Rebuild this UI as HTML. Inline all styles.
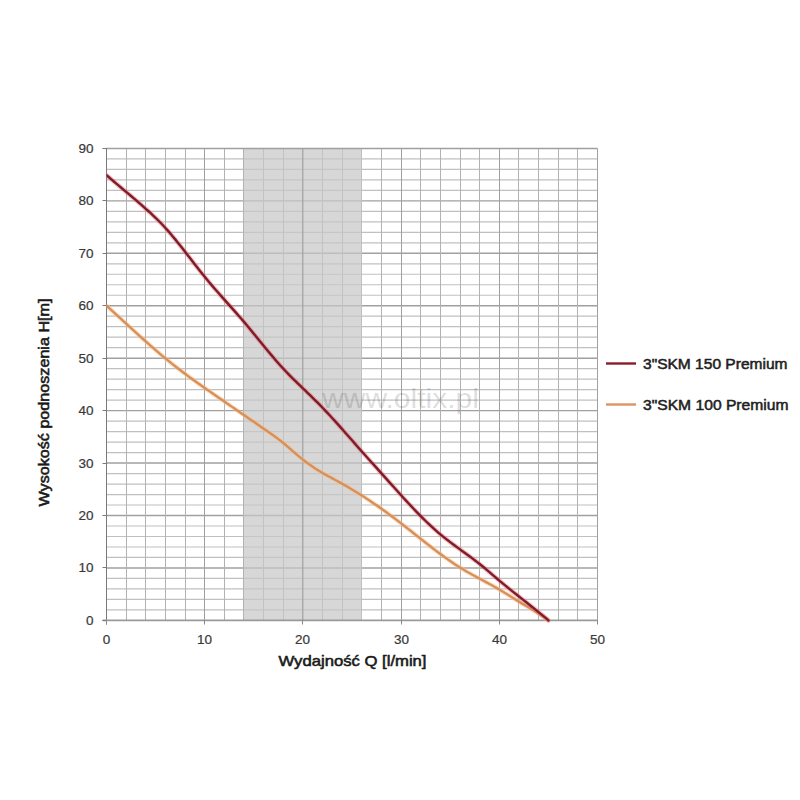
<!DOCTYPE html>
<html><head><meta charset="utf-8"><style>
html,body{margin:0;padding:0;background:#fff;width:800px;height:800px;overflow:hidden}
svg{display:block}
.tl{font-family:"Liberation Sans",sans-serif;font-size:13.5px;fill:#383838;stroke:#383838;stroke-width:0.2px}
.ti{font-family:"Liberation Sans",sans-serif;font-size:14.5px;font-weight:normal;fill:#1a1a1a;stroke:#1a1a1a;stroke-width:0.55px}
.lg{font-family:"Liberation Sans",sans-serif;font-size:14px;font-weight:normal;fill:#1e1e1e;stroke:#1e1e1e;stroke-width:0.5px}
.wm{font-family:"Liberation Sans",sans-serif;font-size:28px;fill:#000;fill-opacity:0.15}
</style></head><body>
<svg width="800" height="800" viewBox="0 0 800 800">
<defs><clipPath id="pc"><rect x="106.5" y="140" width="500" height="490"/></clipPath></defs>
<line x1="106.5" x2="597.5" y1="609.91" y2="609.91" stroke="#c0c0c0" stroke-width="1.2"/>
<line x1="106.5" x2="597.5" y1="599.42" y2="599.42" stroke="#c0c0c0" stroke-width="1.2"/>
<line x1="106.5" x2="597.5" y1="588.93" y2="588.93" stroke="#c0c0c0" stroke-width="1.2"/>
<line x1="106.5" x2="597.5" y1="578.44" y2="578.44" stroke="#c0c0c0" stroke-width="1.2"/>
<line x1="106.5" x2="597.5" y1="567.96" y2="567.96" stroke="#a0a0a0" stroke-width="1.4"/>
<line x1="106.5" x2="597.5" y1="557.47" y2="557.47" stroke="#c0c0c0" stroke-width="1.2"/>
<line x1="106.5" x2="597.5" y1="546.98" y2="546.98" stroke="#c0c0c0" stroke-width="1.2"/>
<line x1="106.5" x2="597.5" y1="536.49" y2="536.49" stroke="#c0c0c0" stroke-width="1.2"/>
<line x1="106.5" x2="597.5" y1="526.00" y2="526.00" stroke="#c0c0c0" stroke-width="1.2"/>
<line x1="106.5" x2="597.5" y1="515.51" y2="515.51" stroke="#a0a0a0" stroke-width="1.4"/>
<line x1="106.5" x2="597.5" y1="505.02" y2="505.02" stroke="#c0c0c0" stroke-width="1.2"/>
<line x1="106.5" x2="597.5" y1="494.53" y2="494.53" stroke="#c0c0c0" stroke-width="1.2"/>
<line x1="106.5" x2="597.5" y1="484.04" y2="484.04" stroke="#c0c0c0" stroke-width="1.2"/>
<line x1="106.5" x2="597.5" y1="473.56" y2="473.56" stroke="#c0c0c0" stroke-width="1.2"/>
<line x1="106.5" x2="597.5" y1="463.07" y2="463.07" stroke="#a0a0a0" stroke-width="1.4"/>
<line x1="106.5" x2="597.5" y1="452.58" y2="452.58" stroke="#c0c0c0" stroke-width="1.2"/>
<line x1="106.5" x2="597.5" y1="442.09" y2="442.09" stroke="#c0c0c0" stroke-width="1.2"/>
<line x1="106.5" x2="597.5" y1="431.60" y2="431.60" stroke="#c0c0c0" stroke-width="1.2"/>
<line x1="106.5" x2="597.5" y1="421.11" y2="421.11" stroke="#c0c0c0" stroke-width="1.2"/>
<line x1="106.5" x2="597.5" y1="410.62" y2="410.62" stroke="#a0a0a0" stroke-width="1.4"/>
<line x1="106.5" x2="597.5" y1="400.13" y2="400.13" stroke="#c0c0c0" stroke-width="1.2"/>
<line x1="106.5" x2="597.5" y1="389.64" y2="389.64" stroke="#c0c0c0" stroke-width="1.2"/>
<line x1="106.5" x2="597.5" y1="379.16" y2="379.16" stroke="#c0c0c0" stroke-width="1.2"/>
<line x1="106.5" x2="597.5" y1="368.67" y2="368.67" stroke="#c0c0c0" stroke-width="1.2"/>
<line x1="106.5" x2="597.5" y1="358.18" y2="358.18" stroke="#a0a0a0" stroke-width="1.4"/>
<line x1="106.5" x2="597.5" y1="347.69" y2="347.69" stroke="#c0c0c0" stroke-width="1.2"/>
<line x1="106.5" x2="597.5" y1="337.20" y2="337.20" stroke="#c0c0c0" stroke-width="1.2"/>
<line x1="106.5" x2="597.5" y1="326.71" y2="326.71" stroke="#c0c0c0" stroke-width="1.2"/>
<line x1="106.5" x2="597.5" y1="316.22" y2="316.22" stroke="#c0c0c0" stroke-width="1.2"/>
<line x1="106.5" x2="597.5" y1="305.73" y2="305.73" stroke="#a0a0a0" stroke-width="1.4"/>
<line x1="106.5" x2="597.5" y1="295.24" y2="295.24" stroke="#c0c0c0" stroke-width="1.2"/>
<line x1="106.5" x2="597.5" y1="284.76" y2="284.76" stroke="#c0c0c0" stroke-width="1.2"/>
<line x1="106.5" x2="597.5" y1="274.27" y2="274.27" stroke="#c0c0c0" stroke-width="1.2"/>
<line x1="106.5" x2="597.5" y1="263.78" y2="263.78" stroke="#c0c0c0" stroke-width="1.2"/>
<line x1="106.5" x2="597.5" y1="253.29" y2="253.29" stroke="#a0a0a0" stroke-width="1.4"/>
<line x1="106.5" x2="597.5" y1="242.80" y2="242.80" stroke="#c0c0c0" stroke-width="1.2"/>
<line x1="106.5" x2="597.5" y1="232.31" y2="232.31" stroke="#c0c0c0" stroke-width="1.2"/>
<line x1="106.5" x2="597.5" y1="221.82" y2="221.82" stroke="#c0c0c0" stroke-width="1.2"/>
<line x1="106.5" x2="597.5" y1="211.33" y2="211.33" stroke="#c0c0c0" stroke-width="1.2"/>
<line x1="106.5" x2="597.5" y1="200.84" y2="200.84" stroke="#a0a0a0" stroke-width="1.4"/>
<line x1="106.5" x2="597.5" y1="190.36" y2="190.36" stroke="#c0c0c0" stroke-width="1.2"/>
<line x1="106.5" x2="597.5" y1="179.87" y2="179.87" stroke="#c0c0c0" stroke-width="1.2"/>
<line x1="106.5" x2="597.5" y1="169.38" y2="169.38" stroke="#c0c0c0" stroke-width="1.2"/>
<line x1="106.5" x2="597.5" y1="158.89" y2="158.89" stroke="#c0c0c0" stroke-width="1.2"/>
<line x1="126.5" x2="126.5" y1="148.4" y2="620.4" stroke="#b2b2b2" stroke-width="1"/>
<line x1="145.5" x2="145.5" y1="148.4" y2="620.4" stroke="#b2b2b2" stroke-width="1"/>
<line x1="165.5" x2="165.5" y1="148.4" y2="620.4" stroke="#b2b2b2" stroke-width="1"/>
<line x1="185.5" x2="185.5" y1="148.4" y2="620.4" stroke="#b2b2b2" stroke-width="1"/>
<line x1="204.5" x2="204.5" y1="148.4" y2="620.4" stroke="#a0a0a0" stroke-width="1"/>
<line x1="224.5" x2="224.5" y1="148.4" y2="620.4" stroke="#b2b2b2" stroke-width="1"/>
<line x1="243.5" x2="243.5" y1="148.4" y2="620.4" stroke="#b2b2b2" stroke-width="1"/>
<line x1="263.5" x2="263.5" y1="148.4" y2="620.4" stroke="#b2b2b2" stroke-width="1"/>
<line x1="283.5" x2="283.5" y1="148.4" y2="620.4" stroke="#b2b2b2" stroke-width="1"/>
<line x1="302.5" x2="302.5" y1="148.4" y2="620.4" stroke="#a0a0a0" stroke-width="1"/>
<line x1="322.5" x2="322.5" y1="148.4" y2="620.4" stroke="#b2b2b2" stroke-width="1"/>
<line x1="342.5" x2="342.5" y1="148.4" y2="620.4" stroke="#b2b2b2" stroke-width="1"/>
<line x1="361.5" x2="361.5" y1="148.4" y2="620.4" stroke="#b2b2b2" stroke-width="1"/>
<line x1="381.5" x2="381.5" y1="148.4" y2="620.4" stroke="#b2b2b2" stroke-width="1"/>
<line x1="401.5" x2="401.5" y1="148.4" y2="620.4" stroke="#a0a0a0" stroke-width="1"/>
<line x1="420.5" x2="420.5" y1="148.4" y2="620.4" stroke="#b2b2b2" stroke-width="1"/>
<line x1="440.5" x2="440.5" y1="148.4" y2="620.4" stroke="#b2b2b2" stroke-width="1"/>
<line x1="460.5" x2="460.5" y1="148.4" y2="620.4" stroke="#b2b2b2" stroke-width="1"/>
<line x1="479.5" x2="479.5" y1="148.4" y2="620.4" stroke="#b2b2b2" stroke-width="1"/>
<line x1="499.5" x2="499.5" y1="148.4" y2="620.4" stroke="#a0a0a0" stroke-width="1"/>
<line x1="518.5" x2="518.5" y1="148.4" y2="620.4" stroke="#b2b2b2" stroke-width="1"/>
<line x1="538.5" x2="538.5" y1="148.4" y2="620.4" stroke="#b2b2b2" stroke-width="1"/>
<line x1="558.5" x2="558.5" y1="148.4" y2="620.4" stroke="#b2b2b2" stroke-width="1"/>
<line x1="577.5" x2="577.5" y1="148.4" y2="620.4" stroke="#b2b2b2" stroke-width="1"/>
<rect x="243.98" y="148.50" width="117.84" height="471.90" fill="#c8c8c8" fill-opacity="0.72"/>
<line x1="302.9" x2="302.9" y1="148.5" y2="620.4" stroke="#909090" stroke-opacity="0.55" stroke-width="1.3"/>
<line x1="597.5" x2="597.5" y1="148.4" y2="620.4" stroke="#a0a0a0" stroke-width="1"/>
<line x1="106.5" x2="597.5" y1="148.5" y2="148.5" stroke="#a0a0a0" stroke-width="1.3"/>
<line x1="106.5" x2="106.5" y1="148.0" y2="624.5" stroke="#7a7a7a" stroke-width="1"/>
<line x1="102.5" x2="597.5" y1="620.4" y2="620.4" stroke="#9a9a9a" stroke-width="1.6"/>
<line x1="102.5" x2="106.5" y1="620.5" y2="620.5" stroke="#7a7a7a" stroke-width="1"/>
<text x="93.5" y="625.3" text-anchor="end" class="tl">0</text>
<line x1="102.5" x2="106.5" y1="567.5" y2="567.5" stroke="#7a7a7a" stroke-width="1"/>
<text x="93.5" y="572.3" text-anchor="end" class="tl">10</text>
<line x1="102.5" x2="106.5" y1="515.5" y2="515.5" stroke="#7a7a7a" stroke-width="1"/>
<text x="93.5" y="520.3" text-anchor="end" class="tl">20</text>
<line x1="102.5" x2="106.5" y1="463.5" y2="463.5" stroke="#7a7a7a" stroke-width="1"/>
<text x="93.5" y="468.3" text-anchor="end" class="tl">30</text>
<line x1="102.5" x2="106.5" y1="410.5" y2="410.5" stroke="#7a7a7a" stroke-width="1"/>
<text x="93.5" y="415.3" text-anchor="end" class="tl">40</text>
<line x1="102.5" x2="106.5" y1="358.5" y2="358.5" stroke="#7a7a7a" stroke-width="1"/>
<text x="93.5" y="363.3" text-anchor="end" class="tl">50</text>
<line x1="102.5" x2="106.5" y1="305.5" y2="305.5" stroke="#7a7a7a" stroke-width="1"/>
<text x="93.5" y="310.3" text-anchor="end" class="tl">60</text>
<line x1="102.5" x2="106.5" y1="253.5" y2="253.5" stroke="#7a7a7a" stroke-width="1"/>
<text x="93.5" y="258.3" text-anchor="end" class="tl">70</text>
<line x1="102.5" x2="106.5" y1="200.5" y2="200.5" stroke="#7a7a7a" stroke-width="1"/>
<text x="93.5" y="205.3" text-anchor="end" class="tl">80</text>
<line x1="102.5" x2="106.5" y1="148.5" y2="148.5" stroke="#7a7a7a" stroke-width="1"/>
<text x="93.5" y="153.3" text-anchor="end" class="tl">90</text>
<line x1="106.5" x2="106.5" y1="620.0" y2="624.5" stroke="#8a8a8a" stroke-width="1"/>
<text x="106.5" y="644" text-anchor="middle" class="tl">0</text>
<line x1="204.5" x2="204.5" y1="620.0" y2="624.5" stroke="#8a8a8a" stroke-width="1"/>
<text x="204.5" y="644" text-anchor="middle" class="tl">10</text>
<line x1="302.5" x2="302.5" y1="620.0" y2="624.5" stroke="#8a8a8a" stroke-width="1"/>
<text x="302.5" y="644" text-anchor="middle" class="tl">20</text>
<line x1="401.5" x2="401.5" y1="620.0" y2="624.5" stroke="#8a8a8a" stroke-width="1"/>
<text x="401.5" y="644" text-anchor="middle" class="tl">30</text>
<line x1="499.5" x2="499.5" y1="620.0" y2="624.5" stroke="#8a8a8a" stroke-width="1"/>
<text x="499.5" y="644" text-anchor="middle" class="tl">40</text>
<line x1="597.5" x2="597.5" y1="620.0" y2="624.5" stroke="#8a8a8a" stroke-width="1"/>
<text x="597.5" y="644" text-anchor="middle" class="tl">50</text>
<text x="322" y="408.2" class="wm" textLength="157" lengthAdjust="spacingAndGlyphs">www.oltix.pl</text>
<path d="M106.50 305.73 L108.95 307.93 L111.41 310.14 L113.86 312.37 L116.32 314.61 L118.78 316.85 L121.23 319.10 L123.69 321.35 L126.14 323.60 L128.59 325.85 L131.05 328.10 L133.50 330.35 L135.96 332.59 L138.41 334.82 L140.87 337.04 L143.32 339.25 L145.78 341.45 L148.24 343.64 L150.69 345.81 L153.15 347.96 L155.60 350.09 L158.06 352.20 L160.51 354.29 L162.97 356.35 L165.42 358.39 L167.88 360.40 L170.33 362.38 L172.78 364.34 L175.24 366.27 L177.69 368.18 L180.15 370.06 L182.61 371.93 L185.06 373.77 L187.51 375.60 L189.97 377.41 L192.43 379.20 L194.88 380.97 L197.33 382.74 L199.79 384.49 L202.25 386.23 L204.70 387.95 L207.16 389.67 L209.61 391.39 L212.06 393.09 L214.52 394.79 L216.97 396.48 L219.43 398.18 L221.88 399.86 L224.34 401.55 L226.80 403.24 L229.25 404.93 L231.70 406.62 L234.16 408.31 L236.62 410.00 L239.07 411.69 L241.53 413.39 L243.98 415.08 L246.44 416.77 L248.89 418.46 L251.34 420.16 L253.80 421.85 L256.25 423.55 L258.71 425.24 L261.16 426.94 L263.62 428.64 L266.07 430.34 L268.53 432.05 L270.99 433.77 L273.44 435.53 L275.89 437.32 L278.35 439.16 L280.81 441.05 L283.26 443.01 L285.72 445.03 L288.17 447.11 L290.62 449.22 L293.08 451.35 L295.53 453.47 L297.99 455.56 L300.44 457.61 L302.90 459.60 L305.36 461.51 L307.81 463.34 L310.26 465.09 L312.72 466.78 L315.18 468.40 L317.63 469.96 L320.09 471.47 L322.54 472.93 L325.00 474.34 L327.45 475.72 L329.90 477.07 L332.36 478.41 L334.81 479.73 L337.27 481.06 L339.73 482.40 L342.18 483.75 L344.63 485.13 L347.09 486.53 L349.54 487.97 L352.00 489.42 L354.46 490.91 L356.91 492.42 L359.37 493.95 L361.82 495.51 L364.27 497.09 L366.73 498.69 L369.19 500.32 L371.64 501.97 L374.10 503.64 L376.55 505.33 L379.00 507.05 L381.46 508.78 L383.92 510.54 L386.37 512.31 L388.82 514.11 L391.28 515.92 L393.74 517.76 L396.19 519.61 L398.64 521.48 L401.10 523.36 L403.56 525.27 L406.01 527.19 L408.46 529.12 L410.92 531.05 L413.38 533.00 L415.83 534.95 L418.29 536.90 L420.74 538.84 L423.19 540.79 L425.65 542.72 L428.11 544.65 L430.56 546.56 L433.01 548.46 L435.47 550.34 L437.93 552.20 L440.38 554.03 L442.83 555.84 L445.29 557.62 L447.75 559.37 L450.20 561.08 L452.65 562.76 L455.11 564.40 L457.56 566.00 L460.02 567.55 L462.48 569.05 L464.93 570.52 L467.38 571.94 L469.84 573.33 L472.30 574.70 L474.75 576.05 L477.20 577.38 L479.66 578.70 L482.12 580.01 L484.57 581.33 L487.02 582.65 L489.48 583.98 L491.94 585.32 L494.39 586.69 L496.85 588.09 L499.30 589.51 L501.75 590.98 L504.21 592.47 L506.67 593.98 L509.12 595.51 L511.57 597.05 L514.03 598.58 L516.49 600.11 L518.94 601.63 L521.39 603.12 L523.85 604.60 L526.31 606.07 L528.76 607.55 L531.21 609.03 L533.67 610.53 L536.12 612.06 L538.58 613.62 L541.04 615.23 L543.49 616.88 L545.94 618.60 L548.40 620.40" fill="none" stroke="#f7c08c" stroke-opacity="0.45" stroke-width="4.6" stroke-linejoin="round" stroke-linecap="round" clip-path="url(#pc)"/>
<path d="M106.50 305.73 L108.95 307.93 L111.41 310.14 L113.86 312.37 L116.32 314.61 L118.78 316.85 L121.23 319.10 L123.69 321.35 L126.14 323.60 L128.59 325.85 L131.05 328.10 L133.50 330.35 L135.96 332.59 L138.41 334.82 L140.87 337.04 L143.32 339.25 L145.78 341.45 L148.24 343.64 L150.69 345.81 L153.15 347.96 L155.60 350.09 L158.06 352.20 L160.51 354.29 L162.97 356.35 L165.42 358.39 L167.88 360.40 L170.33 362.38 L172.78 364.34 L175.24 366.27 L177.69 368.18 L180.15 370.06 L182.61 371.93 L185.06 373.77 L187.51 375.60 L189.97 377.41 L192.43 379.20 L194.88 380.97 L197.33 382.74 L199.79 384.49 L202.25 386.23 L204.70 387.95 L207.16 389.67 L209.61 391.39 L212.06 393.09 L214.52 394.79 L216.97 396.48 L219.43 398.18 L221.88 399.86 L224.34 401.55 L226.80 403.24 L229.25 404.93 L231.70 406.62 L234.16 408.31 L236.62 410.00 L239.07 411.69 L241.53 413.39 L243.98 415.08 L246.44 416.77 L248.89 418.46 L251.34 420.16 L253.80 421.85 L256.25 423.55 L258.71 425.24 L261.16 426.94 L263.62 428.64 L266.07 430.34 L268.53 432.05 L270.99 433.77 L273.44 435.53 L275.89 437.32 L278.35 439.16 L280.81 441.05 L283.26 443.01 L285.72 445.03 L288.17 447.11 L290.62 449.22 L293.08 451.35 L295.53 453.47 L297.99 455.56 L300.44 457.61 L302.90 459.60 L305.36 461.51 L307.81 463.34 L310.26 465.09 L312.72 466.78 L315.18 468.40 L317.63 469.96 L320.09 471.47 L322.54 472.93 L325.00 474.34 L327.45 475.72 L329.90 477.07 L332.36 478.41 L334.81 479.73 L337.27 481.06 L339.73 482.40 L342.18 483.75 L344.63 485.13 L347.09 486.53 L349.54 487.97 L352.00 489.42 L354.46 490.91 L356.91 492.42 L359.37 493.95 L361.82 495.51 L364.27 497.09 L366.73 498.69 L369.19 500.32 L371.64 501.97 L374.10 503.64 L376.55 505.33 L379.00 507.05 L381.46 508.78 L383.92 510.54 L386.37 512.31 L388.82 514.11 L391.28 515.92 L393.74 517.76 L396.19 519.61 L398.64 521.48 L401.10 523.36 L403.56 525.27 L406.01 527.19 L408.46 529.12 L410.92 531.05 L413.38 533.00 L415.83 534.95 L418.29 536.90 L420.74 538.84 L423.19 540.79 L425.65 542.72 L428.11 544.65 L430.56 546.56 L433.01 548.46 L435.47 550.34 L437.93 552.20 L440.38 554.03 L442.83 555.84 L445.29 557.62 L447.75 559.37 L450.20 561.08 L452.65 562.76 L455.11 564.40 L457.56 566.00 L460.02 567.55 L462.48 569.05 L464.93 570.52 L467.38 571.94 L469.84 573.33 L472.30 574.70 L474.75 576.05 L477.20 577.38 L479.66 578.70 L482.12 580.01 L484.57 581.33 L487.02 582.65 L489.48 583.98 L491.94 585.32 L494.39 586.69 L496.85 588.09 L499.30 589.51 L501.75 590.98 L504.21 592.47 L506.67 593.98 L509.12 595.51 L511.57 597.05 L514.03 598.58 L516.49 600.11 L518.94 601.63 L521.39 603.12 L523.85 604.60 L526.31 606.07 L528.76 607.55 L531.21 609.03 L533.67 610.53 L536.12 612.06 L538.58 613.62 L541.04 615.23 L543.49 616.88 L545.94 618.60 L548.40 620.40" fill="none" stroke="#d8905b" stroke-width="2.4" stroke-linejoin="round" stroke-linecap="round" clip-path="url(#pc)"/>
<path d="M106.50 175.15 L108.95 177.26 L111.41 179.38 L113.86 181.49 L116.32 183.58 L118.78 185.66 L121.23 187.74 L123.69 189.81 L126.14 191.88 L128.59 193.95 L131.05 196.03 L133.50 198.11 L135.96 200.21 L138.41 202.32 L140.87 204.46 L143.32 206.61 L145.78 208.78 L148.24 210.99 L150.69 213.23 L153.15 215.52 L155.60 217.86 L158.06 220.26 L160.51 222.74 L162.97 225.29 L165.42 227.94 L167.88 230.67 L170.33 233.50 L172.78 236.40 L175.24 239.37 L177.69 242.40 L180.15 245.47 L182.61 248.59 L185.06 251.73 L187.51 254.90 L189.97 258.08 L192.43 261.25 L194.88 264.42 L197.33 267.57 L199.79 270.70 L202.25 273.78 L204.70 276.82 L207.16 279.80 L209.61 282.74 L212.06 285.63 L214.52 288.48 L216.97 291.29 L219.43 294.08 L221.88 296.86 L224.34 299.61 L226.80 302.36 L229.25 305.11 L231.70 307.86 L234.16 310.62 L236.62 313.40 L239.07 316.20 L241.53 319.03 L243.98 321.89 L246.44 324.79 L248.89 327.72 L251.34 330.69 L253.80 333.67 L256.25 336.67 L258.71 339.68 L261.16 342.69 L263.62 345.70 L266.07 348.69 L268.53 351.67 L270.99 354.62 L273.44 357.54 L275.89 360.41 L278.35 363.23 L280.81 365.99 L283.26 368.68 L285.72 371.30 L288.17 373.86 L290.62 376.35 L293.08 378.80 L295.53 381.22 L297.99 383.60 L300.44 385.97 L302.90 388.33 L305.36 390.69 L307.81 393.06 L310.26 395.45 L312.72 397.85 L315.18 400.27 L317.63 402.72 L320.09 405.21 L322.54 407.73 L325.00 410.30 L327.45 412.90 L329.90 415.54 L332.36 418.22 L334.81 420.92 L337.27 423.65 L339.73 426.39 L342.18 429.16 L344.63 431.94 L347.09 434.73 L349.54 437.53 L352.00 440.33 L354.46 443.12 L356.91 445.92 L359.37 448.70 L361.82 451.47 L364.27 454.23 L366.73 456.98 L369.19 459.71 L371.64 462.44 L374.10 465.17 L376.55 467.89 L379.00 470.62 L381.46 473.35 L383.92 476.09 L386.37 478.84 L388.82 481.58 L391.28 484.33 L393.74 487.07 L396.19 489.81 L398.64 492.53 L401.10 495.25 L403.56 497.94 L406.01 500.62 L408.46 503.28 L410.92 505.91 L413.38 508.51 L415.83 511.08 L418.29 513.62 L420.74 516.11 L423.19 518.57 L425.65 520.99 L428.11 523.36 L430.56 525.67 L433.01 527.94 L435.47 530.15 L437.93 532.30 L440.38 534.39 L442.83 536.41 L445.29 538.38 L447.75 540.30 L450.20 542.17 L452.65 544.01 L455.11 545.83 L457.56 547.62 L460.02 549.39 L462.48 551.16 L464.93 552.94 L467.38 554.72 L469.84 556.52 L472.30 558.34 L474.75 560.19 L477.20 562.08 L479.66 564.02 L482.12 566.01 L484.57 568.04 L487.02 570.10 L489.48 572.19 L491.94 574.29 L494.39 576.39 L496.85 578.49 L499.30 580.57 L501.75 582.62 L504.21 584.65 L506.67 586.66 L509.12 588.66 L511.57 590.63 L514.03 592.60 L516.49 594.55 L518.94 596.49 L521.39 598.43 L523.85 600.37 L526.31 602.31 L528.76 604.25 L531.21 606.20 L533.67 608.15 L536.12 610.12 L538.58 612.10 L541.04 614.10 L543.49 616.11 L545.94 618.15 L548.40 620.40" fill="none" stroke="#e8707a" stroke-opacity="0.45" stroke-width="4.6" stroke-linejoin="round" stroke-linecap="round" clip-path="url(#pc)"/>
<path d="M106.50 175.15 L108.95 177.26 L111.41 179.38 L113.86 181.49 L116.32 183.58 L118.78 185.66 L121.23 187.74 L123.69 189.81 L126.14 191.88 L128.59 193.95 L131.05 196.03 L133.50 198.11 L135.96 200.21 L138.41 202.32 L140.87 204.46 L143.32 206.61 L145.78 208.78 L148.24 210.99 L150.69 213.23 L153.15 215.52 L155.60 217.86 L158.06 220.26 L160.51 222.74 L162.97 225.29 L165.42 227.94 L167.88 230.67 L170.33 233.50 L172.78 236.40 L175.24 239.37 L177.69 242.40 L180.15 245.47 L182.61 248.59 L185.06 251.73 L187.51 254.90 L189.97 258.08 L192.43 261.25 L194.88 264.42 L197.33 267.57 L199.79 270.70 L202.25 273.78 L204.70 276.82 L207.16 279.80 L209.61 282.74 L212.06 285.63 L214.52 288.48 L216.97 291.29 L219.43 294.08 L221.88 296.86 L224.34 299.61 L226.80 302.36 L229.25 305.11 L231.70 307.86 L234.16 310.62 L236.62 313.40 L239.07 316.20 L241.53 319.03 L243.98 321.89 L246.44 324.79 L248.89 327.72 L251.34 330.69 L253.80 333.67 L256.25 336.67 L258.71 339.68 L261.16 342.69 L263.62 345.70 L266.07 348.69 L268.53 351.67 L270.99 354.62 L273.44 357.54 L275.89 360.41 L278.35 363.23 L280.81 365.99 L283.26 368.68 L285.72 371.30 L288.17 373.86 L290.62 376.35 L293.08 378.80 L295.53 381.22 L297.99 383.60 L300.44 385.97 L302.90 388.33 L305.36 390.69 L307.81 393.06 L310.26 395.45 L312.72 397.85 L315.18 400.27 L317.63 402.72 L320.09 405.21 L322.54 407.73 L325.00 410.30 L327.45 412.90 L329.90 415.54 L332.36 418.22 L334.81 420.92 L337.27 423.65 L339.73 426.39 L342.18 429.16 L344.63 431.94 L347.09 434.73 L349.54 437.53 L352.00 440.33 L354.46 443.12 L356.91 445.92 L359.37 448.70 L361.82 451.47 L364.27 454.23 L366.73 456.98 L369.19 459.71 L371.64 462.44 L374.10 465.17 L376.55 467.89 L379.00 470.62 L381.46 473.35 L383.92 476.09 L386.37 478.84 L388.82 481.58 L391.28 484.33 L393.74 487.07 L396.19 489.81 L398.64 492.53 L401.10 495.25 L403.56 497.94 L406.01 500.62 L408.46 503.28 L410.92 505.91 L413.38 508.51 L415.83 511.08 L418.29 513.62 L420.74 516.11 L423.19 518.57 L425.65 520.99 L428.11 523.36 L430.56 525.67 L433.01 527.94 L435.47 530.15 L437.93 532.30 L440.38 534.39 L442.83 536.41 L445.29 538.38 L447.75 540.30 L450.20 542.17 L452.65 544.01 L455.11 545.83 L457.56 547.62 L460.02 549.39 L462.48 551.16 L464.93 552.94 L467.38 554.72 L469.84 556.52 L472.30 558.34 L474.75 560.19 L477.20 562.08 L479.66 564.02 L482.12 566.01 L484.57 568.04 L487.02 570.10 L489.48 572.19 L491.94 574.29 L494.39 576.39 L496.85 578.49 L499.30 580.57 L501.75 582.62 L504.21 584.65 L506.67 586.66 L509.12 588.66 L511.57 590.63 L514.03 592.60 L516.49 594.55 L518.94 596.49 L521.39 598.43 L523.85 600.37 L526.31 602.31 L528.76 604.25 L531.21 606.20 L533.67 608.15 L536.12 610.12 L538.58 612.10 L541.04 614.10 L543.49 616.11 L545.94 618.15 L548.40 620.40" fill="none" stroke="#7e1c2a" stroke-width="2.4" stroke-linejoin="round" stroke-linecap="round" clip-path="url(#pc)"/>
<text x="278.5" y="666.3" class="ti" textLength="148" lengthAdjust="spacingAndGlyphs">Wydajność Q [l/min]</text>
<text transform="translate(49.2 506.5) rotate(-90)" x="0" y="0" class="ti" textLength="208" lengthAdjust="spacingAndGlyphs">Wysokość podnoszenia H[m]</text>
<line x1="606" x2="636" y1="363.5" y2="363.5" stroke="#8a1c27" stroke-width="2.4"/>
<line x1="606" x2="636" y1="404.5" y2="404.5" stroke="#dc9463" stroke-width="2.4"/>
<text x="643" y="368.5" class="lg" textLength="144.5" lengthAdjust="spacingAndGlyphs">3"SKM 150 Premium</text>
<text x="643" y="409.6" class="lg" textLength="145.5" lengthAdjust="spacingAndGlyphs">3"SKM 100 Premium</text>
</svg>
</body></html>
